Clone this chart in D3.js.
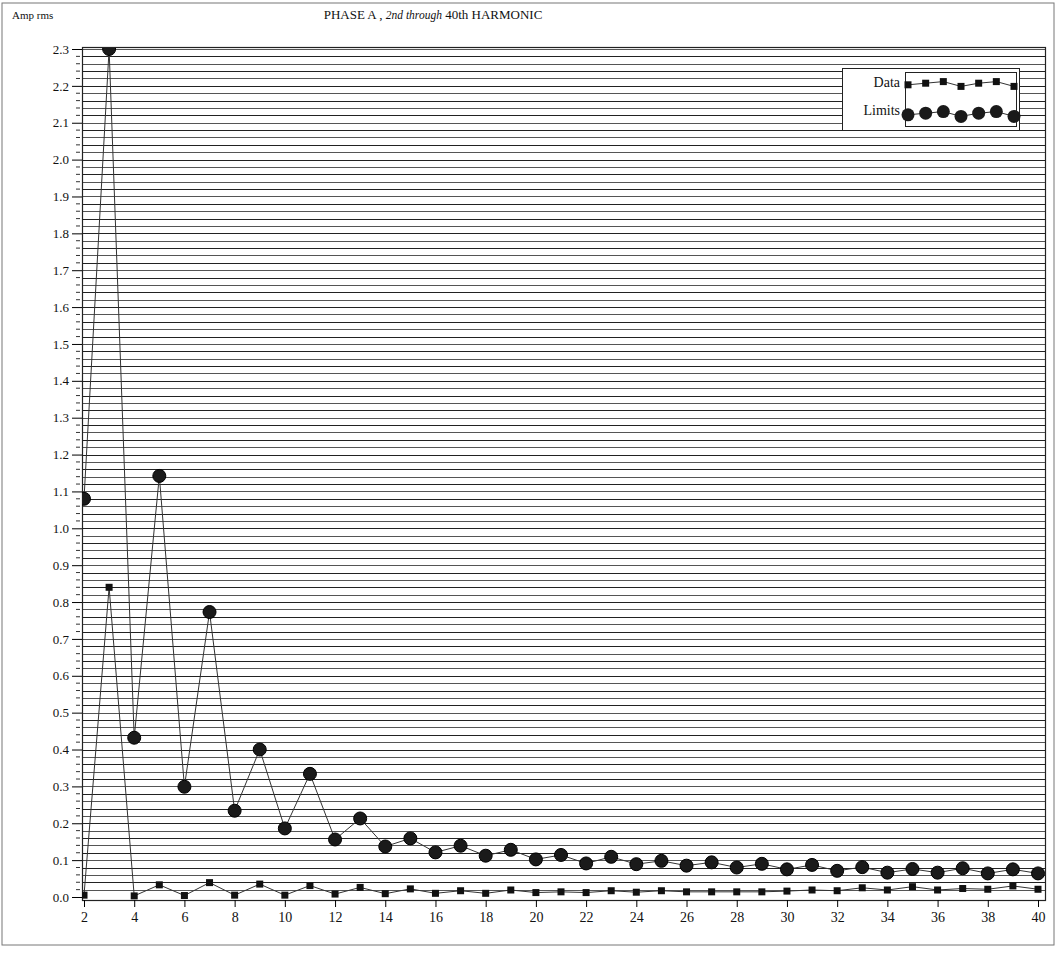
<!DOCTYPE html>
<html>
<head>
<meta charset="utf-8">
<script src="https://cdn.jsdelivr.net/npm/d3@7/dist/d3.min.js"></script>
<style>
  body { margin: 0; background: #fff; }
  svg { display: block; }
  text { font-family: "Liberation Serif", "DejaVu Serif", serif; fill: #111; }
</style>
</head>
<body>
<div id="chart"></div>
<script>
// Chart data
var harmonics = d3.range(2, 41);
var dataValues = [0.005, 0.84, 0.003, 0.033, 0.004, 0.039, 0.005, 0.035, 0.005, 0.031,
  0.008, 0.026, 0.009, 0.022, 0.010, 0.017, 0.010, 0.019, 0.012, 0.014,
  0.012, 0.017, 0.013, 0.017, 0.014, 0.014, 0.014, 0.014, 0.016, 0.019,
  0.017, 0.025, 0.019, 0.028, 0.019, 0.023, 0.021, 0.030, 0.021];
var limitValues = [1.08, 2.30, 0.432, 1.142, 0.299, 0.773, 0.234, 0.40, 0.186, 0.334,
  0.156, 0.213, 0.137, 0.159, 0.121, 0.139, 0.112, 0.128, 0.102, 0.114,
  0.091, 0.109, 0.089, 0.098, 0.085, 0.094, 0.080, 0.090, 0.075, 0.087,
  0.071, 0.081, 0.066, 0.076, 0.066, 0.078, 0.064, 0.075, 0.064];
var xTicks = d3.range(2, 41, 2);
var yMajorTicks = d3.range(0, 24).map(d => d / 10);
var yMinorTicks = d3.range(0, 116).map(d => d / 50);
var legendLabels = ["Data", "Limits"];
var legendSample = [0.4, 0.6, 0.8, 0.2, 0.6, 0.8, 0.2];

// Chart Params
var svgWidth = 1056;
var svgHeight = 953;
var plot = { left: 82, right: 1045, top: 47, bottom: 900 };

var svg = d3.select("#chart")
  .append("svg")
  .attr("width", svgWidth)
  .attr("height", svgHeight);

// page frame
svg.append("rect")
  .attr("x", 2).attr("y", 3)
  .attr("width", 1052).attr("height", 942)
  .attr("fill", "none")
  .attr("stroke", "#777")
  .attr("stroke-width", 1);

// scales
var x = d3.scaleLinear().domain([2, 40]).range([84, 1038]);
var y = d3.scaleLinear().domain([0, 2.3]).range([897, 49]);

// clip for the marks
svg.append("clipPath").attr("id", "plotClip")
  .append("rect")
  .attr("x", plot.left).attr("y", plot.top + 1)
  .attr("width", plot.right - plot.left + 4)
  .attr("height", plot.bottom - plot.top);

// grid lines every 0.02
svg.append("g")
  .selectAll("line")
  .data(yMinorTicks.filter(d => d > 0))
  .enter()
  .append("line")
  .attr("x1", plot.left)
  .attr("x2", plot.right)
  .attr("y1", d => Math.round(y(d)) + 0.5)
  .attr("y2", d => Math.round(y(d)) + 0.5)
  .attr("stroke", (d, i) => i % 2 ? "#222" : "#555")
  .attr("stroke-width", 1.1);

// frame
svg.append("rect")
  .attr("x", plot.left + 0.5).attr("y", plot.top + 0.5)
  .attr("width", plot.right - plot.left)
  .attr("height", plot.bottom - plot.top)
  .attr("fill", "none")
  .attr("stroke", "#222")
  .attr("stroke-width", 1.2);

// Y axis: major ticks with labels, minor ticks
var leftAxis = d3.axisLeft(y)
  .tickValues(yMajorTicks)
  .tickFormat(d3.format(".1f"))
  .tickSize(10)
  .tickPadding(3);

var yAxisGroup = svg.append("g")
  .attr("transform", `translate(${plot.left}, 0)`)
  .call(leftAxis);
yAxisGroup.select(".domain").remove();
yAxisGroup.selectAll("text")
  .attr("font-size", 13)
  .attr("font-family", "Liberation Serif");

svg.append("g")
  .selectAll("line")
  .data(yMinorTicks.filter(d => Math.round(d * 50) % 5 !== 0))
  .enter()
  .append("line")
  .attr("x1", 76)
  .attr("x2", 80)
  .attr("y1", d => y(d))
  .attr("y2", d => y(d))
  .attr("stroke", "#333");

// X axis
var bottomAxis = d3.axisBottom(x)
  .tickValues(xTicks)
  .tickSize(7)
  .tickPadding(5);

var xAxisGroup = svg.append("g")
  .attr("transform", `translate(0, ${plot.bottom})`)
  .call(bottomAxis);
xAxisGroup.select(".domain").remove();
xAxisGroup.selectAll("text")
  .attr("font-size", 14)
  .attr("font-family", "Liberation Serif");

// titles
svg.append("text")
  .attr("x", 12).attr("y", 19)
  .attr("font-size", 11)
  .text("Amp rms");

var title = svg.append("text")
  .attr("x", 433).attr("y", 19)
  .attr("text-anchor", "middle")
  .attr("font-size", 13);
title.append("tspan").text("PHASE A , ");
title.append("tspan").attr("font-style", "italic").attr("font-size", 11.5).text("2nd through");
title.append("tspan").text(" 40th HARMONIC");

// series
var marks = svg.append("g").attr("clip-path", "url(#plotClip)");

var line = d3.line()
  .x((d, i) => x(harmonics[i]))
  .y(d => y(d));

marks.append("path")
  .datum(limitValues)
  .attr("d", line)
  .attr("fill", "none")
  .attr("stroke", "#333")
  .attr("stroke-width", 1);

marks.append("path")
  .datum(dataValues)
  .attr("d", line)
  .attr("fill", "none")
  .attr("stroke", "#333")
  .attr("stroke-width", 1);

marks.selectAll("circle.limit")
  .data(limitValues)
  .enter()
  .append("circle")
  .attr("class", "limit")
  .attr("cx", (d, i) => x(harmonics[i]))
  .attr("cy", d => y(d))
  .attr("r", 6.5)
  .attr("fill", "#1a1a1a")
  .attr("stroke", "#000");

marks.selectAll("rect.data")
  .data(dataValues)
  .enter()
  .append("rect")
  .attr("class", "data")
  .attr("x", (d, i) => x(harmonics[i]) - 3.5)
  .attr("y", d => y(d) - 3.5)
  .attr("width", 7)
  .attr("height", 7)
  .attr("fill", "#111");

// Legend
var legend = svg.append("g");
legend.append("rect")
  .attr("x", 842.5).attr("y", 68.5)
  .attr("width", 177).attr("height", 62)
  .attr("fill", "#fff")
  .attr("stroke", "#222");
legend.append("rect")
  .attr("x", 905.5).attr("y", 72.5)
  .attr("width", 111).attr("height", 54)
  .attr("fill", "#fff")
  .attr("stroke", "#222");

legend.selectAll("text")
  .data(legendLabels)
  .enter()
  .append("text")
  .attr("x", 900)
  .attr("y", (d, i) => 87 + i * 28)
  .attr("text-anchor", "end")
  .attr("font-size", 14)
  .text(d => d);

var lx = d3.scaleLinear().domain([0, legendSample.length - 1]).range([908, 1014]);
legendLabels.forEach(function(label, k) {
  var ly = d3.scaleLinear().domain([0, 1]).range([88 + k * 30, 80 + k * 30]);
  var g = legend.append("g");
  g.append("path")
    .datum(legendSample)
    .attr("d", d3.line().x((d, i) => lx(i)).y(d => ly(d)))
    .attr("fill", "none")
    .attr("stroke", "#333");
  if (k === 0) {
    g.selectAll("rect")
      .data(legendSample)
      .enter()
      .append("rect")
      .attr("x", (d, i) => lx(i) - 3.5)
      .attr("y", d => ly(d) - 3.5)
      .attr("width", 7).attr("height", 7)
      .attr("fill", "#111");
  } else {
    g.selectAll("circle")
      .data(legendSample)
      .enter()
      .append("circle")
      .attr("cx", (d, i) => lx(i))
      .attr("cy", d => ly(d))
      .attr("r", 6.5)
      .attr("fill", "#1a1a1a");
  }
});
</script>
</body>
</html>
